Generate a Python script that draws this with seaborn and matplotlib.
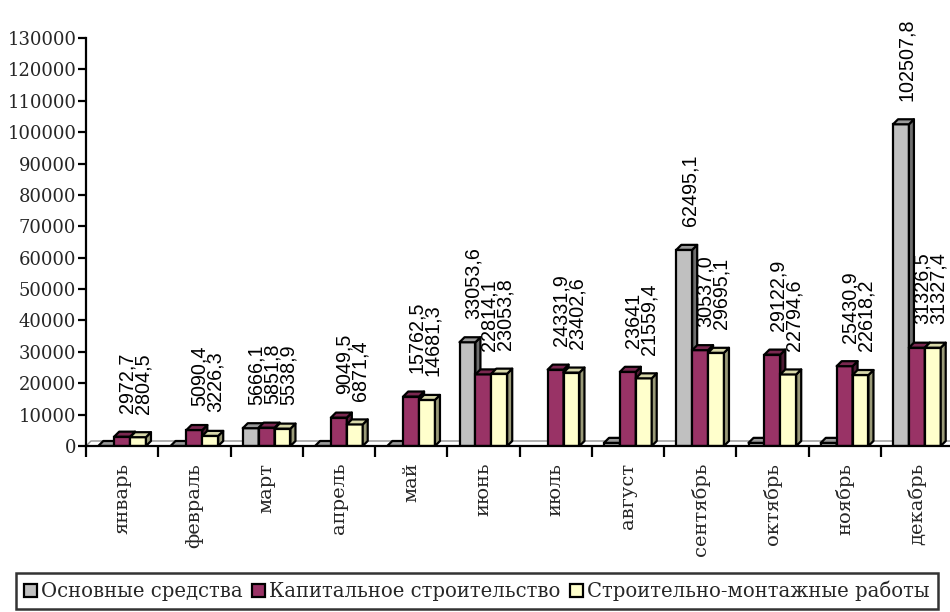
import numpy as np
import pandas as pd
import matplotlib
matplotlib.use("Agg")
import matplotlib.pyplot as plt
import seaborn as sns
from matplotlib.patches import Polygon, Patch

# ---------------- data ----------------
months = ["январь", "февраль", "март", "апрель", "май", "июнь",
          "июль", "август", "сентябрь", "октябрь", "ноябрь", "декабрь"]
series_names = ["Основные средства", "Капитальное строительство",
                "Строительно-монтажные работы"]

fixed_assets = [0, 0, 5666.1, 0, 0, 33053.6, np.nan, 1000, 62495.1, 1000, 1000, 102507.8]
capital = [2972.7, 5090.4, 5851.8, 9049.5, 15762.5, 22814.1, 24331.9, 23641,
           30537.0, 29122.9, 25430.9, 31326.5]
construction = [2804.5, 3226.3, 5538.9, 6871.4, 14681.3, 23053.8, 23402.6, 21559.4,
                29695.1, 22794.6, 22618.2, 31327.4]

fixed_assets_labels = ["", "", "5666,1", "", "", "33053,6", "", "", "62495,1", "", "", "102507,8"]
capital_labels = ["2972,7", "5090,4", "5851,8", "9049,5", "15762,5", "22814,1", "24331,9",
                  "23641", "30537,0", "29122,9", "25430,9", "31326,5"]
construction_labels = ["2804,5", "3226,3", "5538,9", "6871,4", "14681,3", "23053,8", "23402,6",
                       "21559,4", "29695,1", "22794,6", "22618,2", "31327,4"]

y_ticks = list(range(0, 130001, 10000))

colors = ["#C0C0C0", "#993366", "#FFFFCC"]
side_colors = ["#6E6E6E", "#4D1A33", "#9A9A78"]
top_colors = ["#9A9A9A", "#7A2850", "#D8D8AA"]

# ---------------- figure ----------------
sns.set_theme(style="white")
plt.rcParams["font.family"] = ["DejaVu Serif"]

fig = plt.figure(figsize=(9.5, 6.12), dpi=100)
ax = fig.add_axes([86 / 950, 166 / 612, 867 / 950, 408 / 612])

df = pd.DataFrame({
    "month": months * 3,
    "value": fixed_assets + capital + construction,
    "series": [s for s in series_names for _ in months],
})
df_plot = df.dropna()

sns.barplot(data=df_plot, x="month", y="value", hue="series", order=months,
            hue_order=series_names, palette=colors, saturation=1, width=0.66,
            edgecolor="black", linewidth=1.6, errorbar=None, legend=False, ax=ax)

ax.set_xlim(-0.5, 11.5)
ax.set_ylim(0, 130000)

# pixel -> data conversions for the 3D depth
px_x = 867 / 12.0
px_y = 408 / 130000.0
depth_px = 5
dx = depth_px / px_x
dy = depth_px / px_y

labels_all = [fixed_assets_labels, capital_labels, construction_labels]

for si, cont in enumerate(ax.containers):
    for bar in cont:
        x0 = bar.get_x()
        w = bar.get_width()
        h = bar.get_height()
        if np.isnan(h):
            continue
        z = 3 + x0 * 3
        bar.set_zorder(z)
        side = Polygon([(x0 + w, 0), (x0 + w + dx, dy), (x0 + w + dx, h + dy), (x0 + w, h)],
                       closed=True, facecolor=side_colors[si], edgecolor="black",
                       linewidth=1.6, zorder=z + 0.1, joinstyle="round")
        top = Polygon([(x0, h), (x0 + dx, h + dy), (x0 + w + dx, h + dy), (x0 + w, h)],
                      closed=True, facecolor=top_colors[si], edgecolor="black",
                      linewidth=1.6, zorder=z + 0.2, joinstyle="round")
        ax.add_patch(side)
        ax.add_patch(top)
        mi = int(round(x0 + w / 2))
        txt = labels_all[si][mi]
        if txt:
            ax.annotate(txt, (x0 + w / 2 + dx / 2, h), xytext=(2, 17),
                        textcoords="offset points", rotation=90, ha="center",
                        va="bottom", fontsize=14.2, family="Liberation Sans",
                        color="black", annotation_clip=False, zorder=50)

# floor back edge
ax.plot([-0.5, -0.5 + dx, 11.5], [0, dy, dy], color="#909090", linewidth=1.0,
        zorder=1, clip_on=False)

# axes styling
for s in ["top", "right"]:
    ax.spines[s].set_visible(False)
for s in ["left", "bottom"]:
    ax.spines[s].set_color("black")
    ax.spines[s].set_linewidth(1.6)
    ax.spines[s].set_zorder(100)

ax.set_yticks(y_ticks)
ax.set_yticklabels([str(v) for v in y_ticks], fontsize=13, family="DejaVu Serif")
ax.tick_params(axis="y", direction="out", length=6, width=1.6, color="black", pad=1, left=True)

ax.set_xticks(np.arange(-0.5, 12, 1))
ax.set_xticklabels([])
ax.set_xticks(np.arange(12), minor=True)
ax.set_xticklabels(months, minor=True, rotation=90, fontsize=14, family="DejaVu Serif",
                   va="top")
ax.tick_params(axis="x", which="major", direction="out", length=8, width=1.6,
               color="black", bottom=True)
ax.tick_params(axis="x", which="minor", length=0, pad=12)
ax.set_xlabel("")
ax.set_ylabel("")
ax.grid(False)

# legend
handles = [Patch(facecolor=c, edgecolor="black", linewidth=1.6) for c in colors]
leg = fig.legend(handles, series_names, loc="center", bbox_to_anchor=(477 / 950, 21 / 612),
                 ncol=3, fontsize=14.1, frameon=True, fancybox=False,
                 handlelength=0.65, handleheight=0.65, handletextpad=0.2,
                 columnspacing=0.5, borderpad=0.42, borderaxespad=0)
leg.get_frame().set_edgecolor("black")
leg.get_frame().set_linewidth(1.8)
for t in leg.get_texts():
    t.set_family("DejaVu Serif")

fig.savefig("out.png", dpi=100)
